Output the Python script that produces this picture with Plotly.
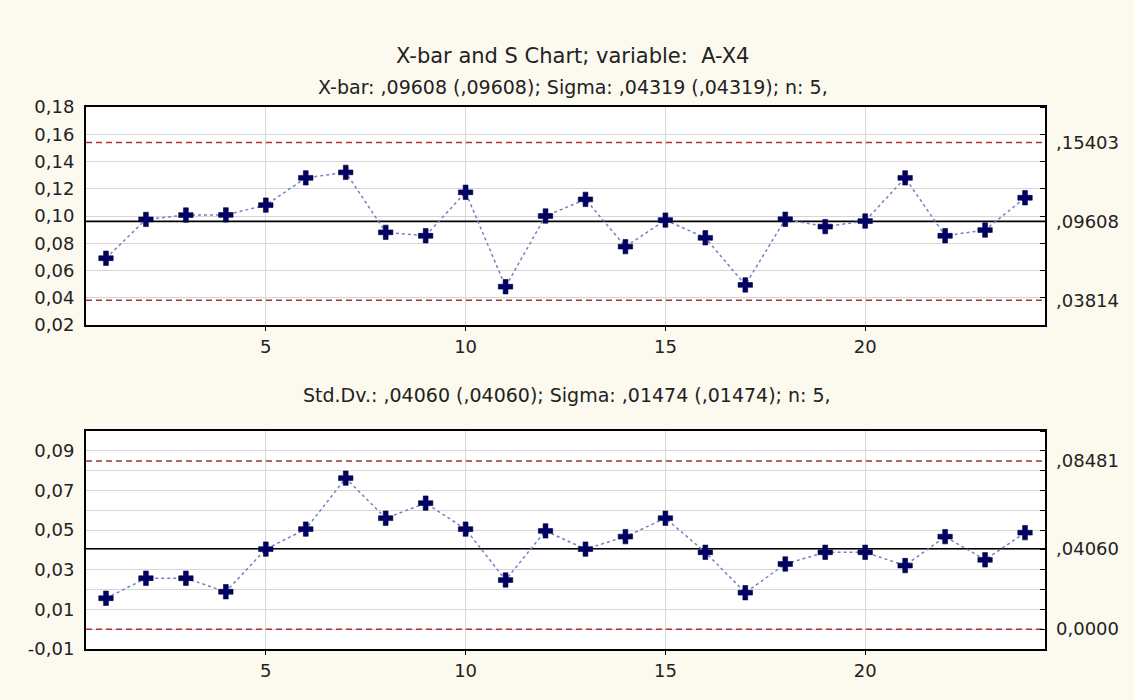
import plotly.graph_objects as go

# ---------------- data ----------------
samples = list(range(1, 25))

xbar_values = [0.069, 0.0975, 0.1007, 0.1008, 0.108, 0.128, 0.132, 0.0880,
               0.0855, 0.1174, 0.0481, 0.1000, 0.1122, 0.0775, 0.0970, 0.0840,
               0.0494, 0.0976, 0.0922, 0.0963, 0.1280, 0.0855, 0.0897, 0.1134]

sd_values = [0.0156, 0.0257, 0.0257, 0.0189, 0.0404, 0.0505, 0.0762, 0.0560,
             0.0636, 0.0505, 0.0248, 0.0496, 0.0404, 0.0467, 0.0560, 0.0388,
             0.0184, 0.0329, 0.0388, 0.0388, 0.0321, 0.0467, 0.0350, 0.0487]

xbar_limits = {"ucl": 0.15403, "center": 0.09608, "lcl": 0.03814}
xbar_limit_labels = [",15403", ",09608", ",03814"]
sd_limits = {"ucl": 0.08481, "center": 0.04060, "lcl": 0.0}
sd_limit_labels = [",08481", ",04060", "0,0000"]

x_range = [0.5, 24.5]
xbar_range = [0.02, 0.18]
sd_range = [-0.01, 0.10]

xbar_ticks = [0.02, 0.04, 0.06, 0.08, 0.10, 0.12, 0.14, 0.16, 0.18]
xbar_ticktext = ["0,02", "0,04", "0,06", "0,08", "0,10", "0,12", "0,14", "0,16", "0,18"]
sd_ticks = [-0.01, 0.0, 0.01, 0.02, 0.03, 0.04, 0.05, 0.06, 0.07, 0.08, 0.09]
sd_ticktext = ["-0,01", "", "0,01", "", "0,03", "", "0,05", "", "0,07", "", "0,09"]
x_ticks = [5, 10, 15, 20]

title = "X-bar and S Chart; variable:  A-X4"
sub_xbar = "X-bar: ,09608 (,09608); Sigma: ,04319 (,04319); n: 5,"
sub_sd = "Std.Dv.: ,04060 (,04060); Sigma: ,01474 (,01474); n: 5,"

# ---------------- style ----------------
W, H = 1134, 700
FONT = "DejaVu Sans"
BG = "#FCF9EF"
GRID = "#D6D6D6"
LINE_C = "#7C7CC4"
MARK_C = "#000066"
LIM_C = "#A83434"

x0p, x1p = 86 / W, 1045 / W
top_dom = [1 - 325 / H, 1 - 107 / H]
bot_dom = [1 - 649 / H, 1 - 431 / H]

fig = go.Figure()

def limits(lim, xa, ya):
    for key in ("ucl", "lcl"):
        fig.add_trace(go.Scatter(
            x=x_range, y=[lim[key], lim[key]], xaxis=xa, yaxis=ya, mode="lines",
            line=dict(color=LIM_C, width=1.5, dash="6px,4px"),
            showlegend=False, hoverinfo="skip"))
    fig.add_trace(go.Scatter(
        x=x_range, y=[lim["center"], lim["center"]], xaxis=xa, yaxis=ya, mode="lines",
        line=dict(color="black", width=1.6), showlegend=False, hoverinfo="skip"))

def series(yv, xa, ya):
    fig.add_trace(go.Scatter(
        x=samples, y=yv, xaxis=xa, yaxis=ya, mode="lines+markers",
        line=dict(color=LINE_C, width=1.5, dash="dot"),
        marker=dict(symbol="cross", size=12, color=MARK_C,
                    line=dict(color="#000033", width=0.6)),
        showlegend=False, hoverinfo="x+y"))

limits(xbar_limits, "x", "y")
limits(sd_limits, "x2", "y3")
series(xbar_values, "x", "y")
series(sd_values, "x2", "y3")

# invisible traces to activate the right axes
fig.add_trace(go.Scatter(x=[None], y=[None], xaxis="x", yaxis="y2", showlegend=False))
fig.add_trace(go.Scatter(x=[None], y=[None], xaxis="x2", yaxis="y4", showlegend=False))

tickfont = dict(family=FONT, size=18, color="#222222")

xcommon = dict(range=x_range, tickvals=x_ticks, showgrid=True, gridcolor=GRID,
               gridwidth=1, showline=True, linecolor="black", linewidth=2,
               mirror=True, ticks="outside", ticklen=4, tickcolor="black",
               tickfont=tickfont, zeroline=False, domain=[x0p, x1p])

fig.update_layout(
    width=W, height=H,
    paper_bgcolor=BG, plot_bgcolor="white",
    margin=dict(l=0, r=0, t=0, b=0, autoexpand=False),
    xaxis=dict(anchor="y", **xcommon),
    xaxis2=dict(anchor="y3", **xcommon),
    yaxis=dict(domain=top_dom, range=xbar_range, tickvals=xbar_ticks,
               ticktext=xbar_ticktext, showgrid=True, gridcolor=GRID,
               showline=True, linecolor="black", linewidth=2, mirror=True,
               ticks="", ticklabelstandoff=6, tickfont=tickfont, zeroline=False),
    yaxis2=dict(domain=top_dom, range=xbar_range, overlaying="y", side="right",
                anchor="x", tickvals=[xbar_limits["ucl"], xbar_limits["center"], xbar_limits["lcl"]],
                ticktext=xbar_limit_labels, ticks="", showgrid=False, zeroline=False,
                ticklabelstandoff=10, tickfont=tickfont,
                minor=dict(tick0=0.02, dtick=0.02, ticks="inside", ticklen=5,
                           tickcolor="black", showgrid=False)),
    yaxis3=dict(domain=bot_dom, range=sd_range, tickvals=sd_ticks,
                ticktext=sd_ticktext, showgrid=True, gridcolor=GRID,
                showline=True, linecolor="black", linewidth=2, mirror=True,
                anchor="x2", ticks="", ticklabelstandoff=6, tickfont=tickfont,
                zeroline=False),
    yaxis4=dict(domain=bot_dom, range=sd_range, overlaying="y3", side="right",
                anchor="x2", tickvals=[sd_limits["ucl"], sd_limits["center"], sd_limits["lcl"]],
                ticktext=sd_limit_labels, ticks="", showgrid=False, zeroline=False,
                ticklabelstandoff=10, tickfont=tickfont,
                minor=dict(tick0=0.0, dtick=0.01, ticks="inside", ticklen=5,
                           tickcolor="black", showgrid=False)),
    annotations=[
        dict(text=title, x=0.505, y=1 - 42 / H, xref="paper", yref="paper",
             showarrow=False, font=dict(family=FONT, size=21, color="#222222")),
        dict(text=sub_xbar, x=0.505, y=1 - 74 / H, xref="paper", yref="paper",
             showarrow=False, font=dict(family=FONT, size=19, color="#222222")),
        dict(text=sub_sd, x=0.5, y=1 - 395 / H, xref="paper", yref="paper",
             showarrow=False, font=dict(family=FONT, size=19, color="#222222")),
    ],
)

fig.write_html("out.html", config={"displayModeBar": False},
               post_script="document.body.style.margin='0';document.body.style.overflow='hidden';")
